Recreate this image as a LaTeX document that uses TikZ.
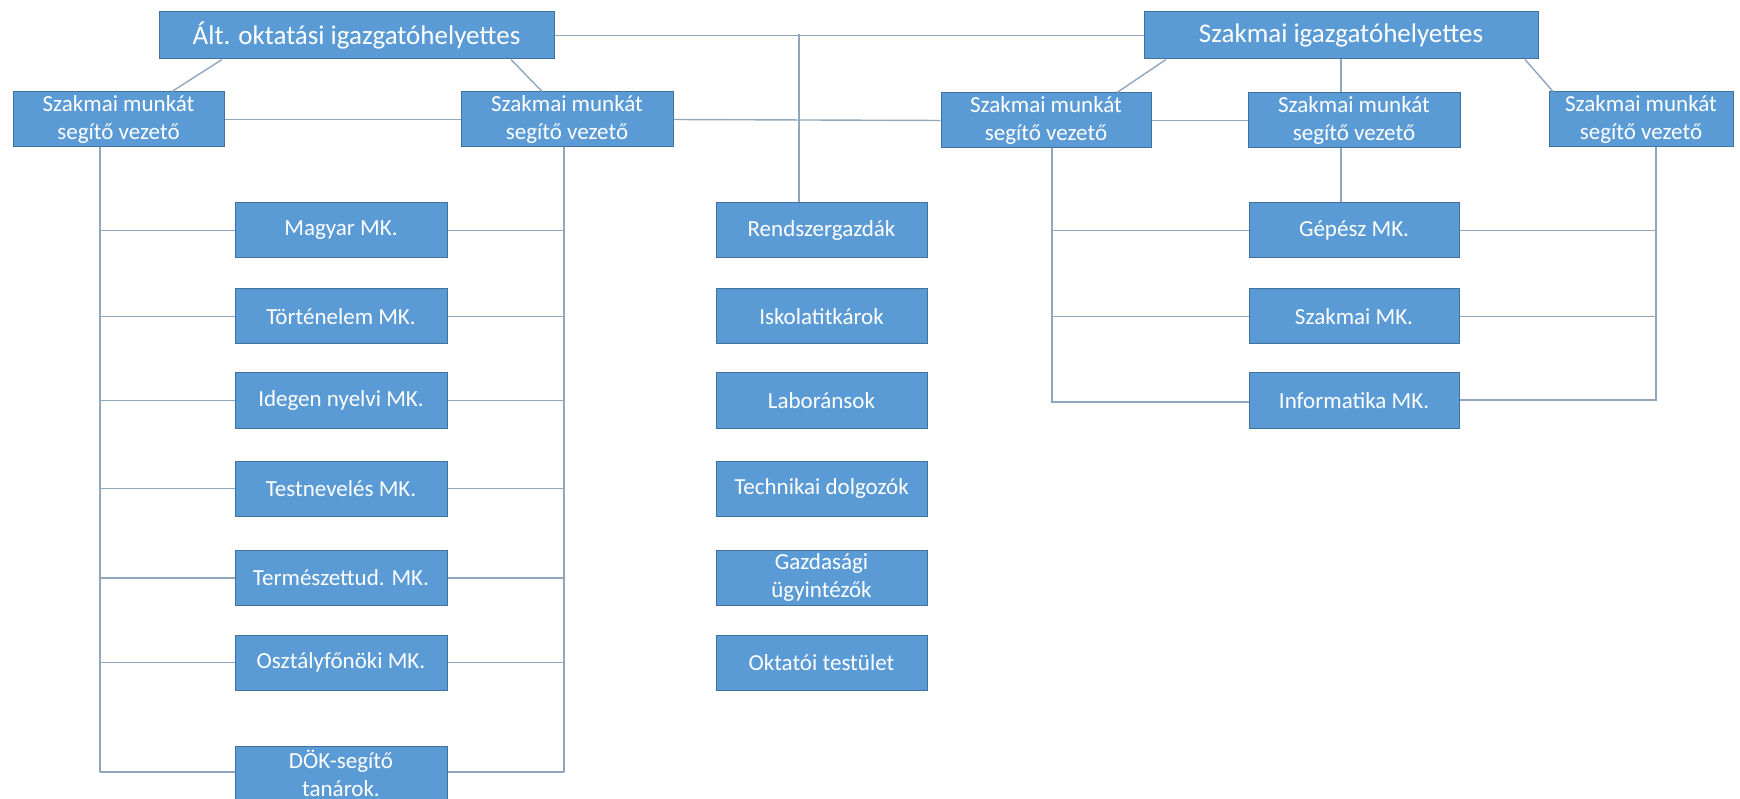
\documentclass[tikz,border=0pt]{standalone}
\usepackage{fontspec}
\setmainfont{Carlito}
\usetikzlibrary{calc}
\definecolor{boxfill}{HTML}{5B9BD5}
\definecolor{boxline}{HTML}{41719C}
\definecolor{conn}{HTML}{8FA6BC}
\tikzset{
  box/.style={rectangle, fill=boxfill, draw=boxline, line width=1pt, text=white,
    inner sep=0pt, align=center, font=\fontsize{23}{28}\selectfont},
  topbox/.style={box, minimum height=47pt, font=\fontsize{27}{32}\selectfont},
  subbox/.style={box, minimum height=55pt},
  mkbox/.style={box, minimum height=55pt},
  link/.style={draw=conn, line width=1.4pt}
}
\begin{document}
\begin{tikzpicture}[x=1pt, y=-1pt]
\useasboundingbox (0,0) rectangle (1740,799);
\clip (0,0) rectangle (1740,799);
\fill[white] (0,0) rectangle (1740,799);

% top level
\node[topbox, minimum width=395pt] (top1) at (356.5,35.5) {Ált. oktatási igazgatóhelyettes};
\node[topbox, minimum width=394pt] (top2) at (1341,35.5) {Szakmai igazgatóhelyettes};

% second level
\node[subbox, minimum width=211pt] (s1) at (118.5,119.5) {Szakmai munkát\\segítő vezető};
\node[subbox, minimum width=212pt] (s2) at (567,119.5) {Szakmai munkát\\segítő vezető};
\node[subbox, minimum width=210pt] (s3) at (1046,120.5) {Szakmai munkát\\segítő vezető};
\node[subbox, minimum width=212pt] (s4) at (1354,120.5) {Szakmai munkát\\segítő vezető};
\node[subbox, minimum width=184pt] (s5) at (1641,119.5) {Szakmai munkát\\segítő vezető};

% left column
\node[mkbox, minimum width=212pt] (l1) at (341,230.5) {Magyar MK.};
\node[mkbox, minimum width=212pt] (l2) at (341,316.5) {Történelem MK.};
\node[mkbox, minimum width=212pt] (l3) at (341,400.5) {Idegen nyelvi MK.};
\node[mkbox, minimum width=212pt] (l4) at (341,488.5) {Testnevelés MK.};
\node[mkbox, minimum width=212pt] (l5) at (341,578) {Természettud. MK.};
\node[mkbox, minimum width=212pt] (l6) at (341,662.5) {Osztályfőnöki MK.};
\node[mkbox, minimum width=212pt] (l7) at (341,773.5) {DÖK-segítő\\tanárok.};

% middle column
\node[mkbox, minimum width=211pt] (c1) at (821.5,230.5) {Rendszergazdák};
\node[mkbox, minimum width=211pt] (c2) at (821.5,316.5) {Iskolatitkárok};
\node[mkbox, minimum width=211pt] (c3) at (821.5,400.5) {Laboránsok};
\node[mkbox, minimum width=211pt] (c4) at (821.5,488.5) {Technikai dolgozók};
\node[mkbox, minimum width=211pt] (c5) at (821.5,577.5) {Gazdasági\\ügyintézők};
\node[mkbox, minimum width=211pt] (c6) at (821.5,662.5) {Oktatói testület};

% right column
\node[mkbox, minimum width=210pt] (r1) at (1354,230.5) {Gépész MK.};
\node[mkbox, minimum width=210pt] (r2) at (1354,316.5) {Szakmai MK.};
\node[mkbox, minimum width=210pt] (r3) at (1354,400.5) {Informatika MK.};

% helper coordinates
\coordinate (mtop) at (799,34);
\coordinate (lvl) at (100,772);
\coordinate (lvr) at (564,772);
\coordinate (rvl) at (1052,402);
\coordinate (rvr) at (1656,400);

% top connections
\draw[link] (top1.east) -- (top2.west);
\draw[link] (mtop) -- (mtop |- c1.north);
\draw[link] ([xshift=-134.5pt]top1.south) -- ([xshift=53.5pt]s1.north);
\draw[link] ([xshift=154.5pt]top1.south) -- ([xshift=-25pt]s2.north);
\draw[link] ([xshift=-175pt]top2.south) -- ([xshift=71pt]s3.north);
\draw[link] (top2.south) -- (top2.south |- s4.north);
\draw[link] ([xshift=184pt]top2.south) -- ([xshift=-88pt]s5.north);

% second level horizontal
\draw[link] (s1.east) -- (s2.west);
\draw[link] (s2.east) -- (s3.west);
\draw[link] (s3.east) -- (s4.west);
\draw[link] (top2.south |- s4.south) -- (top2.south |- r1.north);

% left group
\draw[link] (s1.south -| lvl) -- (lvl);
\draw[link] (s2.south -| lvr) -- (lvr);
\foreach \n in {l1,l2,l3,l4,l5,l6} {
  \draw[link] (\n.west -| lvl) -- (\n.west);
  \draw[link] (\n.east) -- (\n.east -| lvr);
}
\draw[link] (lvl) -- (lvl -| l7.west);
\draw[link] (lvr -| l7.east) -- (lvr);

% right group
\draw[link] (s3.south -| rvl) -- (rvl) -- (rvl -| r3.west);
\draw[link] (s5.south -| rvr) -- (rvr) -- (rvr -| r3.east);
\foreach \n in {r1,r2} {
  \draw[link] (\n.west -| rvl) -- (\n.west);
  \draw[link] (\n.east) -- (\n.east -| rvr);
}
\end{tikzpicture}
\end{document}
